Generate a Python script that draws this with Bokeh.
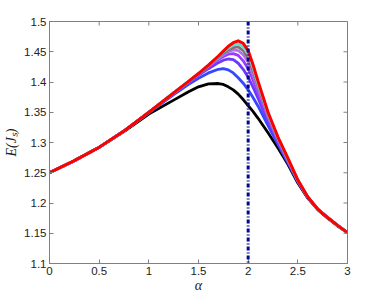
import math
from bokeh.plotting import figure
from bokeh.models import Span, Range1d, FixedTicker
from bokeh.embed import file_html
from bokeh.resources import INLINE

alpha = [0, 0.25, 0.5, 0.75, 1.0, 1.25, 1.4, 1.5, 1.6, 1.7, 1.75, 1.8, 1.85, 1.9, 1.95,
         2.0, 2.05, 2.1, 2.2, 2.3, 2.4, 2.5, 2.6, 2.7, 2.8, 2.9, 3.0]

E_black = [1.250, 1.270, 1.292, 1.318, 1.347, 1.370, 1.384, 1.392, 1.397, 1.3975, 1.396, 1.392, 1.387, 1.380, 1.371,
           1.361, 1.351, 1.340, 1.316, 1.291, 1.264, 1.233, 1.208, 1.189, 1.175, 1.162, 1.151]
E_blue = [1.250, 1.270, 1.292, 1.319, 1.349, 1.379, 1.396, 1.406, 1.415, 1.421, 1.422, 1.420, 1.415, 1.407, 1.398,
          1.387, 1.374, 1.360, 1.328, 1.297, 1.267, 1.235, 1.209, 1.190, 1.176, 1.163, 1.151]
E_violet = [1.250, 1.270, 1.292, 1.319, 1.350, 1.381, 1.399, 1.411, 1.422, 1.432, 1.436, 1.438, 1.437, 1.431, 1.421,
            1.408, 1.391, 1.373, 1.335, 1.300, 1.268, 1.236, 1.209, 1.190, 1.176, 1.163, 1.151]
E_purple = [1.250, 1.270, 1.292, 1.319, 1.350, 1.381, 1.400, 1.412, 1.425, 1.437, 1.442, 1.446, 1.447, 1.444, 1.435,
            1.422, 1.403, 1.382, 1.340, 1.303, 1.270, 1.237, 1.210, 1.190, 1.176, 1.163, 1.151]
E_lilac = [1.250, 1.270, 1.292, 1.319, 1.350, 1.382, 1.400, 1.413, 1.426, 1.439, 1.445, 1.450, 1.453, 1.452, 1.445,
           1.433, 1.412, 1.389, 1.344, 1.305, 1.271, 1.237, 1.210, 1.190, 1.176, 1.163, 1.151]
E_brown = [1.250, 1.270, 1.292, 1.319, 1.350, 1.382, 1.401, 1.414, 1.427, 1.441, 1.448, 1.453, 1.457, 1.458, 1.452,
           1.440, 1.418, 1.393, 1.346, 1.307, 1.272, 1.238, 1.210, 1.190, 1.176, 1.163, 1.151]
E_cyan = [1.250, 1.270, 1.292, 1.319, 1.350, 1.382, 1.401, 1.414, 1.428, 1.442, 1.450, 1.456, 1.461, 1.463, 1.458,
          1.446, 1.423, 1.397, 1.348, 1.308, 1.273, 1.238, 1.210, 1.190, 1.176, 1.163, 1.151]
E_red = [1.250, 1.270, 1.292, 1.319, 1.350, 1.382, 1.401, 1.414, 1.428, 1.443, 1.451, 1.459, 1.465, 1.468, 1.464,
         1.452, 1.428, 1.401, 1.350, 1.309, 1.274, 1.238, 1.210, 1.190, 1.176, 1.163, 1.151]

alpha_c = 2.0

x_ticks = [0, 0.5, 1, 1.5, 2, 2.5, 3]
x_tick_labels = ["0", "0.5", "1", "1.5", "2", "2.5", "3"]
y_ticks = [1.1, 1.15, 1.2, 1.25, 1.3, 1.35, 1.4, 1.45, 1.5]
y_tick_labels = ["1.1", "1.15", "1.2", "1.25", "1.3", "1.35", "1.4", "1.45", "1.5"]

series = [E_black, E_blue, E_violet, E_purple, E_lilac, E_brown, E_cyan, E_red]
colors = ["#000000", "#3348ff", "#6a38ff", "#9a3cff", "#b070f0", "#8e6c74", "#60e0c8", "#ff0000"]
widths = [2.8, 2.8, 2.8, 2.8, 2.8, 2.8, 2.8, 3.0]

x0, x1 = 0, 3
y0, y1 = 1.1, 1.5

p = figure(width=382, height=295, output_backend="svg", toolbar_location=None,
           x_range=Range1d(x0, x1), y_range=Range1d(y0, y1),
           min_border_left=49, min_border_right=35, min_border_top=21, min_border_bottom=32)
p.background_fill_color = "white"
p.border_fill_color = "white"
p.outline_line_color = "#808080"
p.outline_line_width = 1
p.xgrid.visible = False
p.ygrid.visible = False

for ys, c, w in zip(series, colors, widths):
    p.line(alpha, ys, line_color=c, line_width=w, line_join="round")

p.add_layout(Span(location=alpha_c, dimension="height", line_color="#000a8c",
                  line_width=3, line_dash="4 2 1 2"))

# inward ticks on the top and right edges of the box
p.ray(x=x_ticks, y=[y1] * len(x_ticks), length=4, length_units="screen",
      angle=-math.pi / 2, line_color="#808080", line_width=1)
p.ray(x=[x1] * len(y_ticks), y=y_ticks, length=4, length_units="screen",
      angle=math.pi, line_color="#808080", line_width=1)

font = "Liberation Sans"
for ax, ticks, labels in ((p.xaxis[0], x_ticks, x_tick_labels), (p.yaxis[0], y_ticks, y_tick_labels)):
    ax.ticker = FixedTicker(ticks=ticks)
    ax.major_label_overrides = {t: l for t, l in zip(ticks, labels)}
    ax.major_label_text_font = font
    ax.major_label_text_font_size = "11.5px"
    ax.major_label_text_color = "#222222"
    ax.axis_line_color = "#808080"
    ax.major_tick_line_color = "#808080"
    ax.major_tick_in = 4
    ax.major_tick_out = 0
    ax.minor_tick_line_color = None
    ax.major_label_standoff = 3
    ax.axis_label_standoff = 0
    ax.axis_label_text_font = "Liberation Serif"
    ax.axis_label_text_font_style = "italic"
    ax.axis_label_text_font_size = "14px"
    ax.axis_label_text_color = "#222222"

p.xaxis[0].axis_label = "α"
p.yaxis[0].axis_label = "E(Jₛ)"
p.yaxis[0].axis_label_standoff = 2

open("out.html", "w").write(file_html(p, INLINE))
